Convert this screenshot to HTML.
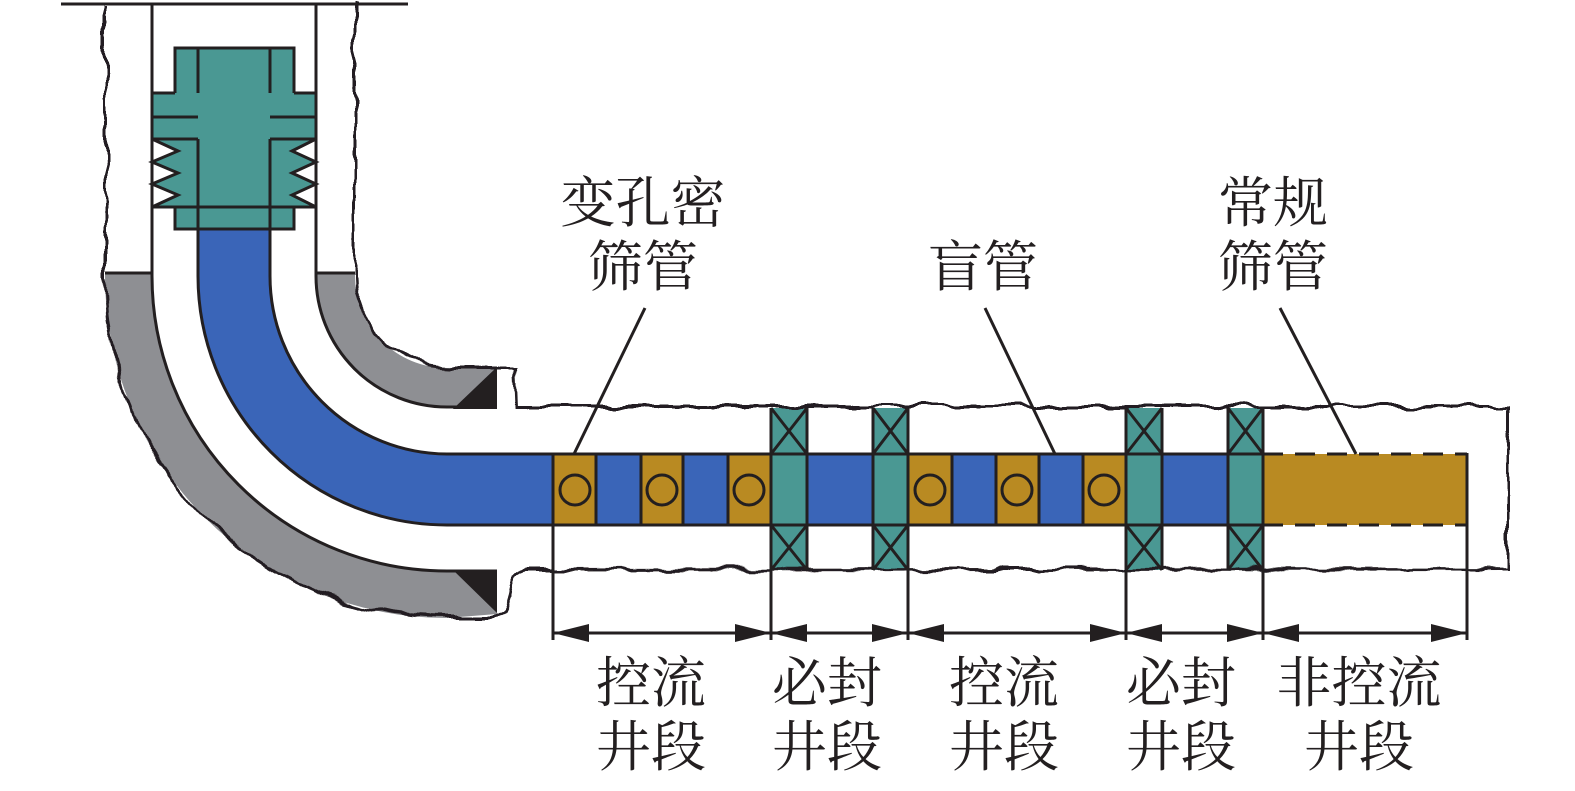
<!DOCTYPE html>
<html><head><meta charset="utf-8"><style>
html,body{margin:0;padding:0;background:#fff;}
svg{display:block;}
text{font-family:"Liberation Serif","Noto Serif CJK SC",serif;font-size:55px;fill:#231f20;}
</style></head><body>
<svg width="1575" height="791" viewBox="0 0 1575 791" xmlns="http://www.w3.org/2000/svg">
<defs>
<filter id="wob" x="-5%" y="-5%" width="110%" height="110%">
<feTurbulence type="fractalNoise" baseFrequency="0.035" numOctaves="2" seed="3"/>
<feDisplacementMap in="SourceGraphic" scale="12" xChannelSelector="R" yChannelSelector="G"/>
</filter>
</defs>
<g stroke="#231f20" stroke-width="3" fill="none">
<path d="M105,273 L152,273 L152,276 A295 295 0 0 0 447,571 L497,571 L497,614 L447,618 A342 342 0 0 1 105,276 Z" fill="#8e8f93" stroke="none"/>
<path d="M316,273 L355,273 L355,276 A92 92 0 0 0 447,368 L497,367 L497,407 L447,407 A131 131 0 0 1 316,276 Z" fill="#8e8f93" stroke="none"/>
<line x1="105" y1="273" x2="152" y2="273"/>
<line x1="316" y1="273" x2="355" y2="273"/>
<g fill="#4a9893" stroke="none">
<rect x="771" y="408" width="36" height="162"/>
<rect x="873" y="408" width="35" height="162"/>
<rect x="1126" y="408" width="36" height="162"/>
<rect x="1228" y="408" width="35" height="162"/>
</g>
<path filter="url(#wob)" d="M105,4 L105,276 A342 342 0 0 0 447,618 L497,618 C512,618 505,572 525,570 L1507,569 L1507,406 L517,406 L515,368 L447,368 A92 92 0 0 1 355,276 L355,4"/>
<line x1="61" y1="4" x2="408" y2="4"/>
<path d="M152,4 L152,276 A295 295 0 0 0 447,571 L497,571"/>
<path d="M316,4 L316,276 A131 131 0 0 0 447,407 L497,407"/>
<polygon points="497,367 497,409 453,409" fill="#231f20" stroke="none"/>
<polygon points="453,570 497,570 497,613" fill="#231f20" stroke="none"/>
<path d="M198,229 L198,276 A249 249 0 0 0 447,525 L553,525 L553,454 L447,454 A178 178 0 0 1 270,276 L270,229" fill="#3a65b8"/>
<rect x="175" y="48" width="119" height="181" fill="#4a9893" stroke="none"/>
<rect x="152" y="93" width="164" height="114" fill="#4a9893" stroke="none"/>
<path d="M175,93 L175,48 L294,48 L294,93 M175,207 L175,229 L294,229 L294,207 M152,93 L152,207 M316,93 L316,207 M152,93 L175,93 M294,93 L316,93 M198,48 L198,93 M270,48 L270,93 M198,139 L198,229 M270,139 L270,229 M152,207 L316,207 M152,117 L198,117 M270,117 L316,117 M152,139 L198,139 M270,139 L316,139"/>
<polygon points="152,139 178,151 152,162 178,173 152,184 178,195 152,207" fill="#fff"/>
<polygon points="316,139 292,151 316,162 292,173 316,184 292,195 316,207" fill="#fff"/>
<g>
<rect x="553" y="454" width="43" height="71" fill="#b98a22"/>
<rect x="596" y="454" width="45" height="71" fill="#3a65b8"/>
<rect x="641" y="454" width="42" height="71" fill="#b98a22"/>
<rect x="683" y="454" width="45" height="71" fill="#3a65b8"/>
<rect x="728" y="454" width="43" height="71" fill="#b98a22"/>
<rect x="771" y="454" width="36" height="71" fill="#4a9893"/>
<rect x="807" y="454" width="66" height="71" fill="#3a65b8"/>
<rect x="873" y="454" width="35" height="71" fill="#4a9893"/>
<rect x="908" y="454" width="44" height="71" fill="#b98a22"/>
<rect x="952" y="454" width="44" height="71" fill="#3a65b8"/>
<rect x="996" y="454" width="43" height="71" fill="#b98a22"/>
<rect x="1039" y="454" width="44" height="71" fill="#3a65b8"/>
<rect x="1083" y="454" width="43" height="71" fill="#b98a22"/>
<rect x="1126" y="454" width="36" height="71" fill="#4a9893"/>
<rect x="1162" y="454" width="66" height="71" fill="#3a65b8"/>
<rect x="1228" y="454" width="35" height="71" fill="#4a9893"/>
</g>
<rect x="1263" y="454" width="204" height="71" fill="#b98a22" stroke="none"/>
<path d="M1263,454 L1467,454 M1263,525 L1467,525" stroke-dasharray="20,12"/>
<line x1="1467" y1="453" x2="1467" y2="526"/>
<g>
<circle cx="575" cy="490" r="15"/><circle cx="662" cy="490" r="15"/><circle cx="749" cy="490" r="15"/>
<circle cx="930" cy="490" r="15"/><circle cx="1017" cy="490" r="15"/><circle cx="1104" cy="490" r="15"/>
</g>
<path d="M771,408 L771,570 M807,408 L807,570 M771,408 L807,454 M807,408 L771,454 M771,525 L807,570 M807,525 L771,570"/>
<path d="M873,408 L873,570 M908,408 L908,570 M873,408 L908,454 M908,408 L873,454 M873,525 L908,570 M908,525 L873,570"/>
<path d="M1126,408 L1126,570 M1162,408 L1162,570 M1126,408 L1162,454 M1162,408 L1126,454 M1126,525 L1162,570 M1162,525 L1126,570"/>
<path d="M1228,408 L1228,570 M1263,408 L1263,570 M1228,408 L1263,454 M1263,408 L1228,454 M1228,525 L1263,570 M1263,525 L1228,570"/>
<line x1="645" y1="308" x2="574" y2="454"/>
<line x1="985" y1="308" x2="1055" y2="454"/>
<line x1="1280" y1="308" x2="1356" y2="454"/>
<path d="M553,525 L553,640 M1467,525 L1467,640 M771,570 L771,640 M908,570 L908,640 M1126,570 L1126,640 M1263,570 L1263,640"/>
<path d="M553,633 L1467,633"/>
</g>
<g fill="#231f20">
<polygon points="553,633 589,624 589,642"/><polygon points="771,633 735,624 735,642"/>
<polygon points="771,633 807,624 807,642"/><polygon points="908,633 872,624 872,642"/>
<polygon points="908,633 944,624 944,642"/><polygon points="1126,633 1090,624 1090,642"/>
<polygon points="1126,633 1162,624 1162,642"/><polygon points="1263,633 1227,624 1227,642"/>
<polygon points="1263,633 1299,624 1299,642"/><polygon points="1467,633 1431,624 1431,642"/>
</g>
<g text-anchor="middle">
<text x="643" y="222">变孔密</text>
<text x="643" y="286">筛管</text>
<text x="983" y="286">盲管</text>
<text x="1273" y="222">常规</text>
<text x="1273" y="286">筛管</text>
<text x="651" y="702">控流</text><text x="651" y="766">井段</text>
<text x="827" y="702">必封</text><text x="827" y="766">井段</text>
<text x="1004" y="702">控流</text><text x="1004" y="766">井段</text>
<text x="1181" y="702">必封</text><text x="1181" y="766">井段</text>
<text x="1359" y="702">非控流</text><text x="1359" y="766">井段</text>
</g>
</svg>
</body></html>
